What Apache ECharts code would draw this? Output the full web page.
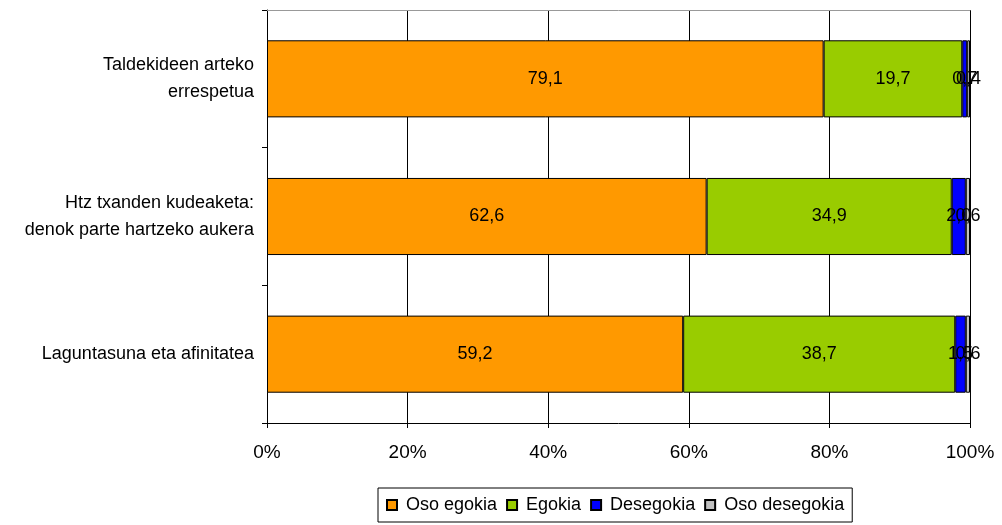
<!DOCTYPE html>
<html><head><meta charset="utf-8">
<script src="https://cdn.jsdelivr.net/npm/echarts@6/dist/echarts.min.js"></script>
<style>html,body{margin:0;padding:0;background:#fff}#c{width:1002px;height:525px}</style>
</head><body><div id="c"></div>
<script>
const categories = ['Taldekideen arteko\nerrespetua', 'Htz txanden kudeaketa:\ndenok parte hartzeko aukera', 'Laguntasuna eta afinitatea'];
const seriesNames = ['Oso egokia', 'Egokia', 'Desegokia', 'Oso desegokia'];
const osoEgokia = [79.1, 62.6, 59.2];
const egokia = [19.7, 34.9, 38.7];
const desegokia = [0.7, 2.0, 1.5];
const osoDesegokia = [0.4, 0.6, 0.6];
const colors = ['#FF9900', '#99CC00', '#0000FF', '#C0C0C0'];

const raw = [osoEgokia, egokia, desegokia, osoDesegokia];
const totals = categories.map((_, i) => raw.reduce((s, a) => s + a[i], 0));
const FONT = '"Liberation Sans", Arial, sans-serif';

const chart = echarts.init(document.getElementById('c'));
chart.setOption({
  animation: false,
  textStyle: { fontFamily: FONT },
  grid: { left: 267, right: 32, top: 10, bottom: 102, containLabel: false },
  legend: {
    bottom: 3, left: 378,
    data: seriesNames,
    itemWidth: 10, itemHeight: 10, itemGap: 9,
    borderColor: '#000', borderWidth: 1, padding: [8, 8, 8, 8],
    textStyle: { fontSize: 18, color: '#000', fontFamily: FONT, padding: [0, 0, 0, 4] },
    icon: 'rect'
  },
  xAxis: [{
    type: 'value', min: 0, max: 100, interval: 20,
    axisLine: { show: true, lineStyle: { color: '#000' } },
    axisTick: { show: true, length: 5, lineStyle: { color: '#000' } },
    axisLabel: { formatter: v => v + '%', fontSize: 19, color: '#000', margin: 20 },
    splitLine: { show: true, lineStyle: { color: '#000', width: 1 } }
  }, {
    type: 'value', min: 0, max: 100, interval: 20, position: 'top',
    axisLine: { show: true, lineStyle: { color: '#999' } },
    axisTick: { show: false }, axisLabel: { show: false }, splitLine: { show: false }
  }],
  yAxis: {
    type: 'category', data: categories, inverse: true,
    axisLine: { show: true, lineStyle: { color: '#000' } },
    axisTick: { show: true, length: 5, lineStyle: { color: '#000' } },
    axisLabel: { fontSize: 18, color: '#000', margin: 13, lineHeight: 27, align: 'right' },
    splitLine: { show: false }
  },
  series: raw.map((arr, k) => ({
    name: seriesNames[k], type: 'bar', stack: 'total', barWidth: '56%', xAxisIndex: 0,
    data: arr.map((v, i) => ({ value: v / totals[i] * 100, raw: v })),
    itemStyle: { color: colors[k], borderColor: '#000', borderWidth: 1 },
    label: {
      show: true, position: 'inside', color: '#000', fontSize: 18, fontFamily: FONT,
      formatter: p => p.data.raw.toFixed(1).replace('.', ',')
    }
  }))
});
</script></body></html>
